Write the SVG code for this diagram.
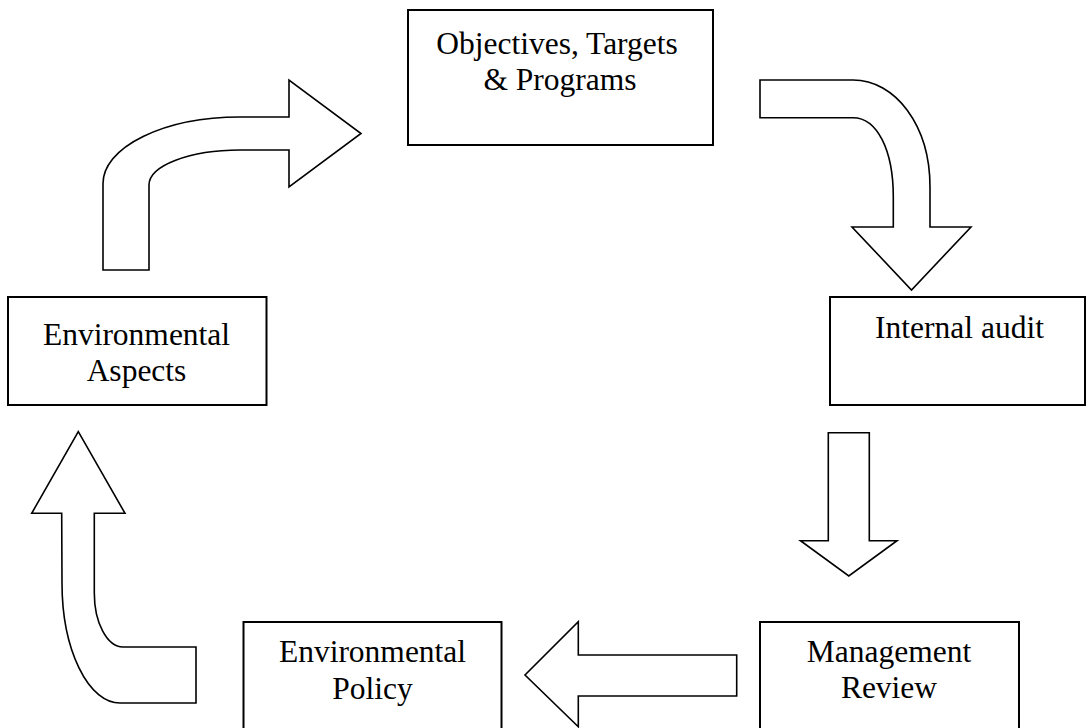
<svg xmlns="http://www.w3.org/2000/svg" width="1086" height="728" viewBox="0 0 1086 728">
<style>
.box{fill:#fff;stroke:#000;stroke-width:2}
.arr{fill:#fff;stroke:#000;stroke-width:1.6;stroke-linejoin:miter}
.t{font-family:"Liberation Serif","Times New Roman",serif;font-size:31.5px;fill:#000;text-anchor:middle}
</style>
<rect width="1086" height="728" fill="#fff"/>
<g id="connectors">
<path class="arr" d="M103,270 L103,183.5 A137,66.5 0 0 1 240,117 L289,117 L289,80 L361,133.5 L289,187 L289,150 L240,150 A91,35 0 0 0 149,185 L149,270 Z"/>
<path class="arr" d="M760,80 L853,80 C895,80 930,125 930,187 L930,227 L971,227 L911.5,290 L852,227 L893.3,227 L893.3,197 C893.3,150 877,117.7 853,117.7 L760,117.7 Z"/>
<path class="arr" d="M828.3,432.7 L869.3,432.7 L869.3,540.7 L897,540.7 L848.8,576 L800.5,540.7 L828.3,540.7 Z"/>
<path class="arr" d="M736.7,655 L736.7,696 L578.3,696 L578.3,726.7 L525,675 L578.3,621.7 L578.3,655 Z"/>
<path class="arr" d="M78.3,431.7 L125,513.3 L94.3,513.3 L94.3,593 A28.7,54 0 0 0 123,647 L196,647 L196,703 L120,703 A58,120 0 0 1 62,583 L61.7,513.3 L31.7,513.3 Z"/>
</g>
<g id="objectives">
<rect class="box" x="408" y="10" width="305" height="135"/>
<text class="t" x="557" y="54">Objectives, Targets</text>
<text class="t" x="560" y="90">&amp; Programs</text>
</g>
<g id="internal-audit">
<rect class="box" x="830" y="297" width="255" height="108"/>
<text class="t" x="959.5" y="338">Internal audit</text>
</g>
<g id="management-review">
<rect class="box" x="760" y="622" width="259" height="120"/>
<text class="t" x="889" y="662">Management</text>
<text class="t" x="889" y="698">Review</text>
</g>
<g id="environmental-policy">
<rect class="box" x="243.5" y="622" width="258" height="120"/>
<text class="t" x="372.5" y="662">Environmental</text>
<text class="t" x="372.5" y="699">Policy</text>
</g>
<g id="environmental-aspects">
<rect class="box" x="8" y="297" width="258.5" height="108"/>
<text class="t" x="136.5" y="345">Environmental</text>
<text class="t" x="136.5" y="381">Aspects</text>
</g>
</svg>
